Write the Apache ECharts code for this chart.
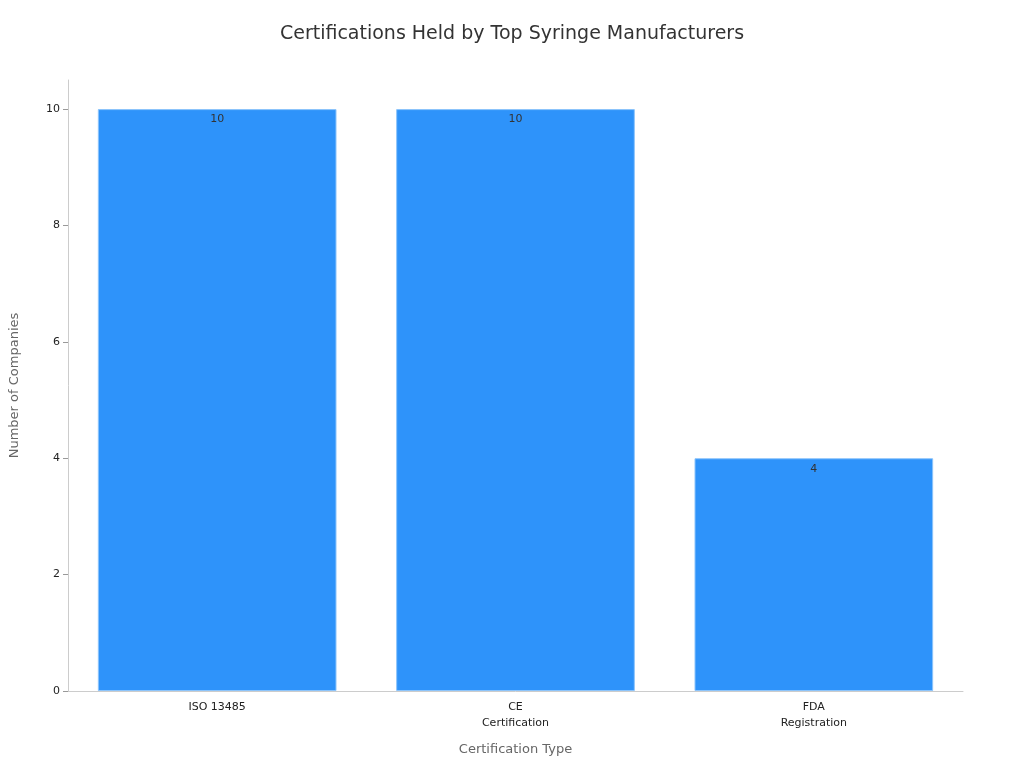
<!DOCTYPE html>
<html><head><meta charset="utf-8">
<script src="https://cdn.jsdelivr.net/npm/echarts@6/dist/echarts.min.js"></script>
<style>html,body{margin:0;background:#fff}#chart{width:1024px;height:768px}</style>
</head><body><div id="chart"></div>
<script>
var categories = ['ISO 13485', 'CE\nCertification', 'FDA\nRegistration'];
var companyCounts = [10, 10, 4];

var chart = echarts.init(document.getElementById('chart'));
chart.setOption({
    animation: false,
    textStyle: { fontFamily: 'DejaVu Sans' },
    title: {
        text: 'Certifications Held by Top Syringe Manufacturers',
        left: 'center', top: 20,
        textStyle: { fontSize: 19, fontWeight: 'normal', color: '#333' }
    },
    grid: { left: 60, right: 61, top: 80, bottom: 77 },
    xAxis: {
        type: 'category',
        data: categories,
        name: 'Certification Type',
        nameLocation: 'middle', nameGap: 52,
        nameTextStyle: { fontSize: 13, color: '#666' },
        axisLine: { lineStyle: { color: '#ccc' } },
        axisTick: { show: false },
        axisLabel: { color: '#222', fontSize: 11, lineHeight: 16 }
    },
    yAxis: {
        type: 'value',
        min: 0, max: 10.5, interval: 2,
        name: 'Number of Companies',
        nameLocation: 'middle', nameGap: 47,
        nameTextStyle: { fontSize: 13, color: '#666' },
        axisLine: { show: true, lineStyle: { color: '#ccc' } },
        axisTick: { show: true, lineStyle: { color: '#999' } },
        axisLabel: { color: '#222', fontSize: 11, showMaxLabel: false },
        splitLine: { show: false }
    },
    series: [{
        type: 'bar',
        data: companyCounts,
        barWidth: '80%',
        itemStyle: { color: '#2E93FA', borderColor: '#8cc4fb', borderWidth: 1 },
        label: { show: true, position: 'insideTop', color: '#333', fontSize: 11, distance: 5 }
    }]
});
</script></body></html>
